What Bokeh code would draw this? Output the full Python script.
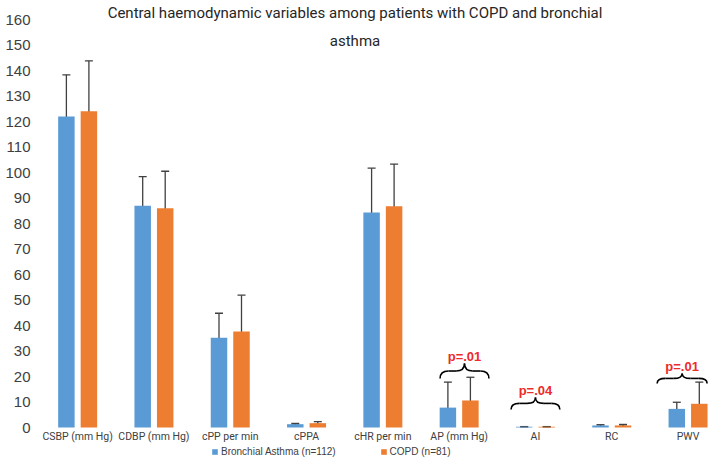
import numpy as np
from bokeh.plotting import figure
from bokeh.models import (ColumnDataSource, Whisker, TeeHead, Legend, LegendItem,
                          FixedTicker, Label)
from bokeh.embed import file_html
from bokeh.resources import INLINE

# ---- data -------------------------------------------------------------
title_lines = ["Central haemodynamic variables among patients with COPD and bronchial",
               "asthma"]
categories = ["CSBP (mm Hg)", "CDBP (mm Hg)", "cPP per min", "cPPA", "cHR per min",
              "AP (mm Hg)", "AI", "RC", "PWV"]
series_labels = ["Bronchial Asthma (n=112)", "COPD (n=81)"]

asthma_mean = [122.0, 87.0, 35.2, 1.3, 84.3, 7.8, 0.3, 0.8, 7.3]
asthma_low = [106.4, 77.3, 26.2, 1.0, 67.7, 2.7, 0.25, 0.5, 6.0]
asthma_high = [138.3, 98.4, 44.8, 1.6, 101.7, 17.8, 0.35, 1.1, 9.9]

copd_mean = [124.0, 86.0, 37.6, 1.7, 86.8, 10.6, 0.3, 0.8, 9.3]
copd_low = [104.3, 72.4, 23.8, 1.2, 71.3, 2.4, 0.25, 0.5, 1.0]
copd_high = [143.8, 100.5, 51.9, 2.3, 103.3, 19.7, 0.35, 1.2, 17.8]

p_values = ["p=.01", "p=.04", "p=.01"]
y_ticks = list(range(0, 170, 10))

# ---- layout / style ---------------------------------------------------
BLUE = "#5B9BD5"
ORANGE = "#ED7D31"
INK = "#404040"
PX_PER_CAT = 76.3        # horizontal pixels per category
PX_PER_UNIT = 2.55       # vertical pixels per y unit
FRAME_LEFT = 39
W, H = 709, 457
ZERO_PX = 427            # canvas row of the y = 0 baseline

NARROW = "Roboto"
SANS = "Liberation Sans"

xs = np.arange(len(categories), dtype=float)
offset = 0.1475
bar_w = 0.216

# the frame spans the whole canvas height; the category axis sits on y = 0
p = figure(width=W, height=H,
           x_range=(-0.5, -0.5 + (W - FRAME_LEFT) / PX_PER_CAT),
           y_range=(-(H - ZERO_PX) / PX_PER_UNIT, ZERO_PX / PX_PER_UNIT),
           output_backend="svg", toolbar_location=None,
           min_border_left=FRAME_LEFT, min_border_right=0,
           min_border_top=0, min_border_bottom=0)
p.outline_line_color = None
p.xgrid.visible = False
p.ygrid.visible = False
p.background_fill_color = "white"

# axes
p.xaxis.fixed_location = 0
p.xaxis.ticker = FixedTicker(ticks=list(range(len(categories))))
p.xaxis.major_label_overrides = {i: c for i, c in enumerate(categories)}
p.xaxis.axis_line_color = None
p.xaxis.major_tick_line_color = None
p.xaxis.minor_tick_line_color = None
p.xaxis.major_tick_out = 0
p.xaxis.major_label_standoff = 2
p.xaxis.major_label_text_font = NARROW
p.xaxis.major_label_text_font_size = "10.5px"
p.xaxis.major_label_text_color = INK

p.yaxis.ticker = FixedTicker(ticks=y_ticks)
p.yaxis.axis_line_color = None
p.yaxis.major_tick_line_color = None
p.yaxis.minor_tick_line_color = None
p.yaxis.major_tick_out = 0
p.yaxis.minor_tick_out = 0
p.yaxis.major_label_standoff = 9
p.yaxis.major_label_text_font = SANS
p.yaxis.major_label_text_font_size = "15px"
p.yaxis.major_label_text_color = INK

# bars
src_a = ColumnDataSource(dict(x=xs - offset, top=asthma_mean, lo=asthma_low, hi=asthma_high))
src_c = ColumnDataSource(dict(x=xs + offset, top=copd_mean, lo=copd_low, hi=copd_high))
r_a = p.vbar(x="x", top="top", width=bar_w, source=src_a, fill_color=BLUE, line_color=None)
r_c = p.vbar(x="x", top="top", width=bar_w, source=src_c, fill_color=ORANGE, line_color=None)

# error bars
for src in (src_a, src_c):
    p.add_layout(Whisker(source=src, base="x", lower="lo", upper="hi",
                         line_color=INK, line_width=1.3,
                         upper_head=TeeHead(size=8, line_color=INK, line_width=1.3),
                         lower_head=TeeHead(size=8, line_color=INK, line_width=1.3)))

# curly braces with p-values: (left x, right x, bottom y, top y)
braces = [(4.75, 5.39, 19.2, 25.1), (5.68, 6.32, 7.1, 11.8), (7.595, 8.25, 17.3, 21.2)]
q = 0.11
for (x0, x1, yb, yt), ptxt in zip(braces, p_values):
    xc = (x0 + x1) / 2
    ym = (yb + yt) / 2
    p.quadratic(x0=[x0, xc - q], y0=[yb, ym], x1=[x0 + q, xc], y1=[ym, yt],
                cx=[x0, xc], cy=[ym, ym], line_color="black", line_width=1.6)
    p.quadratic(x0=[x1, xc + q], y0=[yb, ym], x1=[x1 - q, xc], y1=[ym, yt],
                cx=[x1, xc], cy=[ym, ym], line_color="black", line_width=1.6)
    p.segment(x0=[x0 + q, xc + q], y0=[ym, ym], x1=[xc - q, x1 - q], y1=[ym, ym],
              line_color="black", line_width=1.6)
    p.add_layout(Label(x=xc, y=yt + 2.8, text=ptxt, text_align="center",
                       text_baseline="middle", text_font=SANS, text_font_style="bold",
                       text_font_size="13px", text_color="#EE2A2A"))

# title (two centered lines across the top of the canvas)
title_cx = (W / 2 - FRAME_LEFT) / PX_PER_CAT - 0.5
for line, ypx in zip(title_lines, (12, 40)):
    p.add_layout(Label(x=title_cx, y=(ZERO_PX - ypx) / PX_PER_UNIT, text=line,
                       text_align="center", text_baseline="middle",
                       text_font=NARROW, text_font_size="15px", text_color="#262626"))

# legend along the bottom edge, under the category labels
legend = Legend(items=[LegendItem(label=series_labels[0], renderers=[r_a]),
                       LegendItem(label=series_labels[1], renderers=[r_c])],
                orientation="horizontal", location=(172, 0),
                padding=0, margin=0, spacing=44, border_line_color=None,
                background_fill_alpha=0, glyph_width=7, glyph_height=7,
                label_standoff=3, label_height=12,
                label_text_font=SANS, label_text_font_size="10px",
                label_text_color="#404040")
p.add_layout(legend, "center")

open("out.html", "w").write(file_html(p, INLINE))
